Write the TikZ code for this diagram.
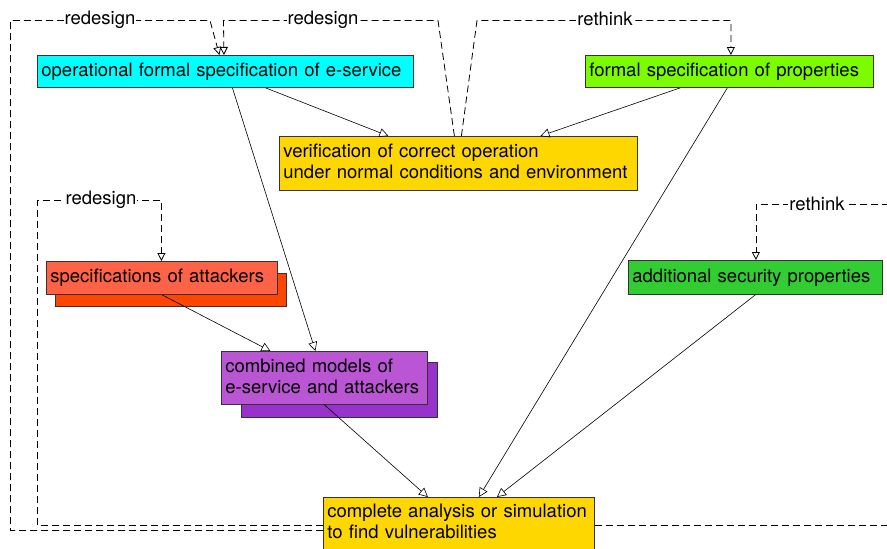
\documentclass[tikz,border=0pt]{standalone}
\usepackage{fontspec}
\setmainfont{TeX Gyre Heros}
\usetikzlibrary{arrows.meta}
\definecolor{opercyan}{HTML}{00FFFF}
\definecolor{specgold}{HTML}{FFD700}
\definecolor{propgreen}{HTML}{7CFC00}
\definecolor{secgreen}{HTML}{32CD32}
\definecolor{atkfront}{HTML}{FF6347}
\definecolor{atkback}{HTML}{FF4500}
\definecolor{combfront}{HTML}{BA55D3}
\definecolor{combback}{HTML}{9932CC}
\tikzset{
  box/.style={draw=black!80,line width=0.8pt,anchor=north west,inner xsep=4pt,inner ysep=0pt,
    align=left,font=\fontsize{18.5}{21}\selectfont},
  flow/.style={line width=0.6pt,-{Triangle[open,length=9pt,width=9pt]}},
  fb/.style={line width=0.8pt,dash pattern=on 7pt off 4pt,-{Triangle[open,length=8pt,width=8pt]}},
  lbl/.style={fill=white,inner sep=1pt,font=\fontsize{18.5}{21}\selectfont}
}
\begin{document}
\begin{tikzpicture}[x=1pt,y=-1pt]
\useasboundingbox (0,0) rectangle (887,549);
\clip (0,0) rectangle (887,549);

% boxes
\node[box,fill=opercyan,text width=368pt,minimum height=32pt] (oper) at (37,55) {operational formal specification of e-service};
\node[box,fill=propgreen,text width=280pt,minimum height=32pt] (props) at (585,55) {formal specification of properties};
\node[box,fill=specgold,text width=350pt,minimum height=54pt] (ver) at (279,136) {verification of correct operation\\under normal conditions and environment\vphantom{g}};
\node[box,fill=atkback,minimum width=231pt,minimum height=33pt] (attb) at (55,273) {};
\node[box,fill=atkfront,text width=223pt,minimum height=33pt] (att) at (46,261) {specifications of attackers};
\node[box,fill=secgreen,text width=246pt,minimum height=34pt] (addl) at (628,260) {additional security properties};
\node[box,fill=combback,minimum width=196pt,minimum height=55pt] (combb) at (241,362) {};
\node[box,fill=combfront,text width=198pt,minimum height=53pt] (comb) at (221,351) {combined models of\\e-service and attackers\vphantom{g}};

% solid arrows
\draw[flow] ([xshift=40pt]oper.south) -- ([xshift=-70pt]ver.north);
\draw[flow] ([xshift=-49pt]props.south) -- ([xshift=82pt]ver.north);
\draw[flow] ([xshift=7pt]oper.south) -- ([xshift=-9pt]comb.north);
\draw[flow] (att.south) -- ([xshift=-54pt]comb.north);

% feedback loops
\draw[fb] ([xshift=-4pt]ver.north) -- (438,20.5) -- (223.5,20.5) -- ([xshift=-1.5pt]oper.north);
\draw[fb] ([xshift=3pt]ver.north) -- (477,20.5) -| ([xshift=1.5pt]props.north);

\node[box,fill=specgold,text width=263pt,minimum height=52pt] (cmp) at (323,497) {complete analysis or simulation\\to find vulnerabilities\vphantom{g}};

\draw[flow] (comb.south) -- ([xshift=-31pt]cmp.north);
\draw[flow] ([xshift=-2pt]props.south) -- ([xshift=20pt]cmp.north);
\draw[flow] (addl.south) -- ([xshift=38pt]cmp.north);

\draw[fb] ([yshift=-33.5pt]cmp.north west) -- (10.5,530.5) -- (10.5,20.5) -- (210,20.5) -- ([xshift=-6pt]oper.north);
\draw[fb] ([yshift=-28.5pt]cmp.north west) -- (37.5,525.5) -- (37.5,200.5) -| ([xshift=-0.5pt]att.north);
\draw[fb] ([yshift=-28.5pt]cmp.north east) -- (895,525.5) -- (895,204.5) -| ([xshift=0.5pt]addl.north);

% loop labels
\node[lbl] (rd1) at (100,20) {redesign};
\node[lbl] (rd2) at (323,20) {redesign};
\node[lbl] (rt1) at (605,19) {rethink};
\node[lbl] (rd3) at (101,200) {redesign};
\node[lbl] (rt2) at (817,204) {rethink};
\end{tikzpicture}
\end{document}
